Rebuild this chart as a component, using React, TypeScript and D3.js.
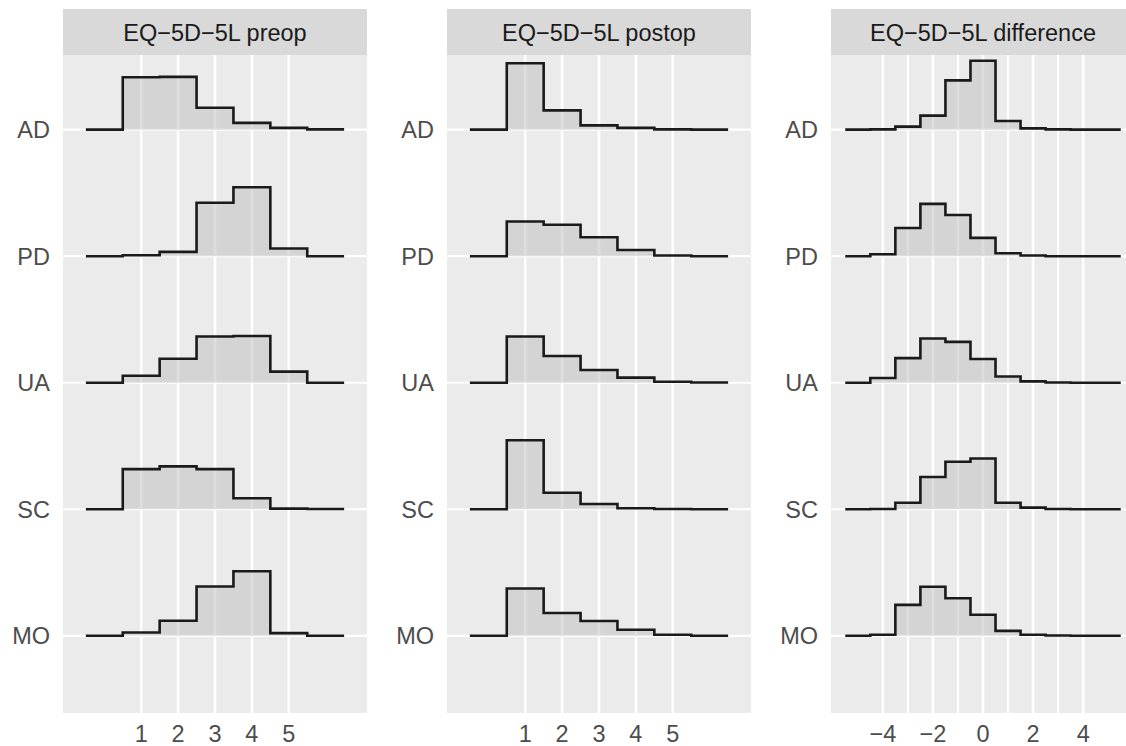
import React, { useEffect, useRef } from 'react'
import * as d3 from 'd3'

// rows, top to bottom
const categories = ['AD', 'PD', 'UA', 'SC', 'MO']
const panelTitles = ['EQ\u22125D\u22125L preop', 'EQ\u22125D\u22125L postop', 'EQ\u22125D\u22125L difference']

// bin centres (width 1)
const scoreBins = [0, 1, 2, 3, 4, 5, 6]
const diffBins = [-5, -4, -3, -2, -1, 0, 1, 2, 3, 4, 5]

const scoreTicks = [1, 2, 3, 4, 5]
const diffTicks = [-4, -2, 0, 2, 4]
const diffMinorTicks = [-3, -1, 1, 3]

// share of patients per bin (%), one row per category
const preopShares = [
  [0, 38.8, 39.0, 16.2, 5.0, 1.3, 0.2],
  [0, 0.7, 3.2, 39.5, 51.0, 5.7, 0],
  [0, 5.2, 17.7, 34.2, 34.6, 8.2, 0],
  [0, 29.7, 31.7, 29.7, 8.2, 0.5, 0.2],
  [0, 2.5, 11.1, 36.5, 47.8, 2.0, 0]
]
const postopShares = [
  [0, 72.2, 20.9, 4.7, 1.9, 0.3, 0],
  [0, 37.7, 34.2, 20.6, 6.7, 0.7, 0],
  [0, 50.2, 29.1, 13.8, 5.5, 1.1, 0.3],
  [0, 74.9, 18.0, 5.7, 1.1, 0.3, 0],
  [0, 51.4, 24.8, 16.1, 6.6, 1.1, 0]
]
const diffShares = [
  [0, 0.2, 2.1, 9.6, 33.8, 47.3, 5.9, 0.9, 0.2, 0, 0],
  [0, 1.3, 19.3, 35.9, 28.3, 12.6, 2.0, 0.5, 0, 0, 0],
  [0, 3.2, 16.9, 30.3, 28.0, 16.3, 4.3, 0.9, 0.2, 0, 0],
  [0, 0.2, 4.5, 22.1, 32.6, 34.8, 4.5, 1.1, 0.2, 0, 0],
  [0, 0.7, 21.2, 33.7, 25.8, 14.4, 3.4, 0.7, 0.2, 0, 0]
]

const W = 1126
const H = 746
const FONT = '"Liberation Sans", Arial, Helvetica, sans-serif'
const FS = 23.5

function drawChart(el: SVGSVGElement) {
  const svg = d3.select(el)
  svg.selectAll('*').remove()

  const panelLefts = [63, 447, 831]
  const panelW = 304
  const top = 55, bottom = 713, stripTop = 9
  const ridgeScale = 0.545

  const panels = [
    { title: panelTitles[0], bins: scoreBins, rows: preopShares, ticks: scoreTicks, minor: [] as number[], domain: [-1.12, 7.12] },
    { title: panelTitles[1], bins: scoreBins, rows: postopShares, ticks: scoreTicks, minor: [] as number[], domain: [-1.12, 7.12] },
    { title: panelTitles[2], bins: diffBins, rows: diffShares, ticks: diffTicks, minor: diffMinorTicks, domain: [-6.07, 6.07] }
  ]

  const y = d3.scaleLinear().domain([0.39, 5.59]).range([bottom, top])
  const rowPos = (i: number) => categories.length - i

  const addText = (g: any, x: number, yy: number, txt: string, anchor: string, color: string) => {
    g.append('text')
      .attr('x', x).attr('y', yy)
      .attr('text-anchor', anchor)
      .attr('font-family', FONT)
      .attr('font-size', FS)
      .attr('fill', color)
      .text(txt)
  }

  panels.forEach((p, pi) => {
    const left = panelLefts[pi]
    const x = d3.scaleLinear().domain(p.domain).range([left, left + panelW])
    const g = svg.append('g')

    // strip
    g.append('rect')
      .attr('x', left).attr('y', stripTop)
      .attr('width', panelW).attr('height', top - stripTop)
      .attr('fill', '#d9d9d9')
    addText(g, left + panelW / 2, 40.5, p.title, 'middle', '#1a1a1a')

    // panel background
    g.append('rect')
      .attr('x', left).attr('y', top)
      .attr('width', panelW).attr('height', bottom - top)
      .attr('fill', '#ebebeb')

    // grid
    g.selectAll('.minor')
      .data(p.minor)
      .enter().append('line')
      .attr('x1', d => x(d)).attr('x2', d => x(d))
      .attr('y1', top).attr('y2', bottom)
      .attr('stroke', '#fff').attr('stroke-width', 2.2)
    g.selectAll('.major')
      .data(p.ticks)
      .enter().append('line')
      .attr('x1', d => x(d)).attr('x2', d => x(d))
      .attr('y1', top).attr('y2', bottom)
      .attr('stroke', '#fff').attr('stroke-width', 2.6)
    g.selectAll('.hgrid')
      .data(categories)
      .enter().append('line')
      .attr('x1', left).attr('x2', left + panelW)
      .attr('y1', (d, i) => y(rowPos(i))).attr('y2', (d, i) => y(rowPos(i)))
      .attr('stroke', '#fff').attr('stroke-width', 2.2)

    // ridges, heights scaled to the tallest bin of the panel
    const maxShare = d3.max(p.rows, r => d3.max(r)) as number
    p.rows.forEach((vals, i) => {
      const base = rowPos(i)
      const pts: [number, number][] = p.bins.map((b, j) => [b - 0.5, vals[j]] as [number, number])
      pts.push([p.bins[p.bins.length - 1] + 0.5, vals[vals.length - 1]])
      const hy = (v: number) => y(base + (v / maxShare) * ridgeScale)

      const area = d3.area<[number, number]>()
        .x(d => x(d[0]))
        .y0(y(base))
        .y1(d => hy(d[1]))
        .curve(d3.curveStepAfter)
      const line = d3.line<[number, number]>()
        .x(d => x(d[0]))
        .y(d => hy(d[1]))
        .curve(d3.curveStepAfter)

      g.append('path').attr('d', area(pts) as string)
        .attr('fill', '#bebebe').attr('fill-opacity', 0.5)
      g.append('path').attr('d', line(pts) as string)
        .attr('fill', 'none').attr('stroke', '#1a1a1a').attr('stroke-width', 2.6)
    })

    // y labels
    categories.forEach((c, i) => {
      addText(svg, left - 13, y(rowPos(i)) + 8.4, c, 'end', '#4d4d4d')
    })

    // x tick labels
    p.ticks.forEach(t => {
      addText(svg, x(t), 742, t < 0 ? '\u2212' + Math.abs(t) : String(t), 'middle', '#4d4d4d')
    })
  })
}

export default function App() {
  const ref = useRef<SVGSVGElement>(null)
  useEffect(() => {
    if (ref.current) drawChart(ref.current)
  }, [])
  return (
    <svg ref={ref} width={W} height={H}
      style={{ position: 'absolute', left: 0, top: 0, background: '#fff' }} />
  )
}
